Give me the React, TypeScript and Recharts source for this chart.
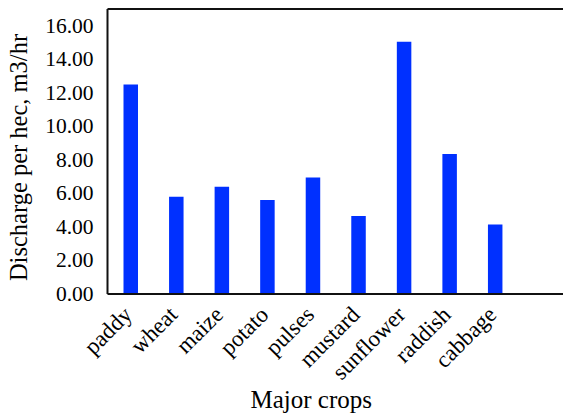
import React from 'react';
import { BarChart, Bar, XAxis, YAxis, ReferenceLine, Label } from 'recharts';

const crops = ['paddy', 'wheat', 'maize', 'potato', 'pulses', 'mustard', 'sunflower', 'raddish', 'cabbage'];
const discharge = [12.5, 5.8, 6.4, 5.6, 6.95, 4.65, 15.05, 8.35, 4.15];
const yTicks = [0, 2, 4, 6, 8, 10, 12, 14, 16];

const data = crops.map((name, i) => ({ name, value: discharge[i] }));

const font = '"Liberation Serif", "Times New Roman", serif';

const CropTick = (props: any) => {
  const { x, y, payload } = props;
  const ax = x + 3;
  const ay = y + 14;
  return (
    <text
      x={ax}
      y={ay}
      transform={`rotate(-45, ${ax}, ${ay})`}
      textAnchor="end"
      fontFamily={font}
      fontSize={23}
      fill="#000"
    >
      {payload.value}
    </text>
  );
};

const ValueTick = (props: any) => {
  const { x, y, payload } = props;
  return (
    <text x={x} y={y} dy={7} textAnchor="end" fontFamily={font} fontSize={21.5} fill="#000">
      {Number(payload.value).toFixed(2)}
    </text>
  );
};

export default function App() {
  return (
    <div
      style={{
        position: 'absolute',
        left: 0,
        top: 0,
        width: 563,
        height: 418,
        overflow: 'hidden',
        background: '#fff',
        fontFamily: font,
      }}
    >
      <BarChart
        width={563}
        height={418}
        data={data}
        margin={{ top: 9, right: 0, bottom: 0, left: 0 }}
        style={{ fontFamily: font }}
      >
        <XAxis
          dataKey="name"
          height={124}
          padding={{ left: 0, right: 45.5 }}
          tickLine={false}
          axisLine={{ stroke: '#111', strokeWidth: 2 }}
          tick={<CropTick />}
          interval={0}
        >
          <Label
            value="Major crops"
            position="insideBottom"
            offset={10}
            dx={-24}
            style={{ fontFamily: font, fontSize: 25, fill: '#000' }}
          />
        </XAxis>
        <YAxis
          width={107.5}
          domain={[0, 17]}
          ticks={yTicks}
          tickLine={false}
          axisLine={{ stroke: '#111', strokeWidth: 2 }}
          tick={<ValueTick />}
          tickMargin={8}
        >
          <Label
            value="Discharge per hec, m3/hr"
            angle={-90}
            position="insideLeft"
            offset={18}
            dy={6}
            style={{ fontFamily: font, fontSize: 24.5, fill: '#000', textAnchor: 'middle' }}
          />
        </YAxis>
        <ReferenceLine y={17} stroke="#111" strokeWidth={2} ifOverflow="visible" />
        <Bar dataKey="value" fill="#0030ff" barSize={14.5} isAnimationActive={false} />
      </BarChart>
    </div>
  );
}
